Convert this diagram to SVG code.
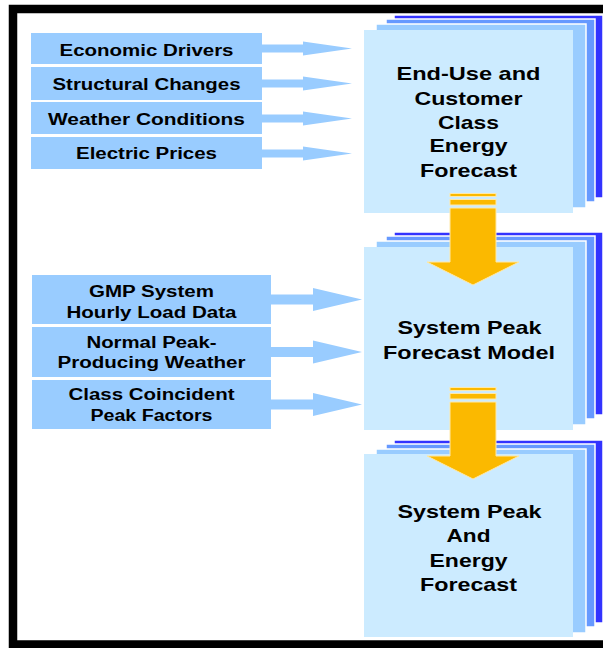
<svg xmlns="http://www.w3.org/2000/svg" width="603" height="648" viewBox="0 0 603 648">
<defs>
<style>
.in{fill:#99CCFF;}
.t{font-family:"Liberation Sans",Arial,sans-serif;font-weight:bold;fill:#000;text-anchor:middle;}
.s{font-size:16px;}
.m{font-size:19px;}
.f{fill:#CCEBFF;}
.l2{fill:#99CCFF;stroke:#fff;stroke-width:1.5;}
.l3{fill:#6699FF;stroke:#fff;stroke-width:1.5;}
.l4{fill:#3333FF;stroke:#fff;stroke-width:1.5;}
.ar{fill:#99CCFF;}
.ya{fill:#FBB900;stroke:#FFE9A8;stroke-width:1;}
</style>
</defs>
<rect x="0" y="0" width="603" height="648" fill="#fff"/>
<rect x="13" y="9" width="600" height="635.5" fill="#fff" stroke="#000" stroke-width="8.5"/>

<g id="in1"><rect class="in" x="31" y="33" width="231" height="31"/><text class="t s" x="146.5" y="56" textLength="174" lengthAdjust="spacingAndGlyphs">Economic Drivers</text></g>
<g id="in2"><rect class="in" x="31" y="67" width="231" height="33"/><text class="t s" x="146.5" y="89.5" textLength="188" lengthAdjust="spacingAndGlyphs">Structural Changes</text></g>
<g id="in3"><rect class="in" x="31" y="102" width="231" height="32"/><text class="t s" x="146.5" y="124.5" textLength="197" lengthAdjust="spacingAndGlyphs">Weather Conditions</text></g>
<g id="in4"><rect class="in" x="31" y="137" width="231" height="32"/><text class="t s" x="146.5" y="158.5" textLength="141" lengthAdjust="spacingAndGlyphs">Electric Prices</text></g>

<g id="in5"><rect class="in" x="32" y="275" width="239" height="49"/><text class="t s" x="151.5" y="297" textLength="125" lengthAdjust="spacingAndGlyphs">GMP System</text><text class="t s" x="151.5" y="317.5" textLength="170" lengthAdjust="spacingAndGlyphs">Hourly Load Data</text></g>
<g id="in6"><rect class="in" x="32" y="327" width="239" height="50"/><text class="t s" x="151.5" y="347.5" textLength="130" lengthAdjust="spacingAndGlyphs">Normal Peak-</text><text class="t s" x="151.5" y="368" textLength="188" lengthAdjust="spacingAndGlyphs">Producing Weather</text></g>
<g id="in7"><rect class="in" x="32" y="380" width="239" height="49"/><text class="t s" x="151.5" y="399.5" textLength="166" lengthAdjust="spacingAndGlyphs">Class Coincident</text><text class="t s" x="151.5" y="421" textLength="122" lengthAdjust="spacingAndGlyphs">Peak Factors</text></g>

<g id="box1">
<rect class="l4" x="394" y="15" width="209" height="183"/>
<rect class="l3" x="386" y="19" width="209" height="183"/>
<rect class="l2" x="376" y="24" width="210" height="184"/>
<rect class="f" x="364" y="30" width="209" height="183"/>
<text class="t m" x="468.5" y="80" textLength="144" lengthAdjust="spacingAndGlyphs">End-Use and</text>
<text class="t m" x="468.5" y="105" textLength="108" lengthAdjust="spacingAndGlyphs">Customer</text>
<text class="t m" x="468.5" y="128.5" textLength="61" lengthAdjust="spacingAndGlyphs">Class</text>
<text class="t m" x="468.5" y="152" textLength="78" lengthAdjust="spacingAndGlyphs">Energy</text>
<text class="t m" x="468.5" y="176.5" textLength="97" lengthAdjust="spacingAndGlyphs">Forecast</text>
</g>
<g id="box2">
<rect class="l4" x="394" y="232" width="209" height="183"/>
<rect class="l3" x="386" y="236" width="209" height="183"/>
<rect class="l2" x="376" y="241" width="210" height="184"/>
<rect class="f" x="364" y="247" width="209" height="183"/>
<text class="t m" x="469.5" y="333.5" textLength="144" lengthAdjust="spacingAndGlyphs">System Peak</text>
<text class="t m" x="469" y="358.5" textLength="172" lengthAdjust="spacingAndGlyphs">Forecast Model</text>
</g>
<g id="box3">
<rect class="l4" x="394" y="440" width="209" height="183"/>
<rect class="l3" x="386" y="444" width="209" height="183"/>
<rect class="l2" x="376" y="449" width="210" height="184"/>
<rect class="f" x="364" y="454" width="209" height="183"/>
<text class="t m" x="469.5" y="517.5" textLength="144" lengthAdjust="spacingAndGlyphs">System Peak</text>
<text class="t m" x="468.5" y="542" textLength="44" lengthAdjust="spacingAndGlyphs">And</text>
<text class="t m" x="468.5" y="567" textLength="78" lengthAdjust="spacingAndGlyphs">Energy</text>
<text class="t m" x="468.5" y="591" textLength="97" lengthAdjust="spacingAndGlyphs">Forecast</text>
</g>

<g id="connectors">
<polygon class="ar" points="262,44.5 303,44.5 303,41.5 352,48.5 303,55.5 303,52.5 262,52.5"/>
<polygon class="ar" points="262,79.5 303,79.5 303,76.5 352,83.5 303,90.5 303,87.5 262,87.5"/>
<polygon class="ar" points="262,114.5 303,114.5 303,111.5 352,118.5 303,125.5 303,122.5 262,122.5"/>
<polygon class="ar" points="262,149.5 303,149.5 303,146.5 352,153.5 303,160.5 303,157.5 262,157.5"/>
<polygon class="ar" points="271,294.5 313,294.5 313,288 362,299.5 313,311 313,304.5 271,304.5"/>
<polygon class="ar" points="271,347 313,347 313,340.5 362,352 313,363.5 313,357 271,357"/>
<polygon class="ar" points="271,399.5 313,399.5 313,393 362,404.5 313,416 313,409.5 271,409.5"/>
<g id="yarrow1">
<rect class="ya" x="450" y="193.5" width="46" height="3"/>
<rect class="ya" x="450" y="199.5" width="46" height="5.5"/>
<path class="ya" d="M450,208 H496 V262 H519 L473,285 L427,262 H450 Z"/>
</g>
<g id="yarrow2" transform="translate(0,194)">
<rect class="ya" x="450" y="193.5" width="46" height="3"/>
<rect class="ya" x="450" y="199.5" width="46" height="5.5"/>
<path class="ya" d="M450,208 H496 V262 H519 L473,285 L427,262 H450 Z"/>
</g>
</g>
</svg>
